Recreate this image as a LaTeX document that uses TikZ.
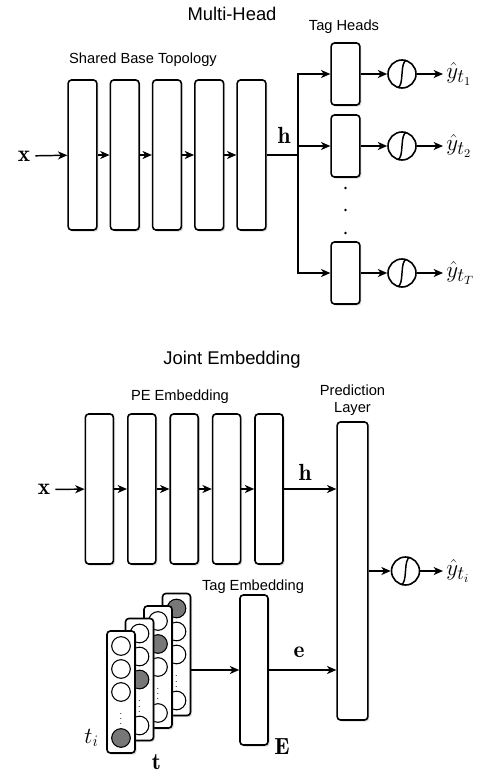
\documentclass[tikz,border=0pt]{standalone}
\usepackage{amsmath}
\usepackage{fontspec}
\setsansfont{Liberation Sans}
\usetikzlibrary{arrows.meta,positioning,calc,shadows}
\definecolor{dotgray}{HTML}{777777}

\begin{document}
\begin{tikzpicture}[
  x=0.75pt, y=-0.75pt,
  line width=1.1pt,
  font=\sffamily\fontsize{11}{13}\selectfont,
  layer/.style={draw, fill=white, rounded corners=2.5pt, minimum width=21.5pt,
    minimum height=112.5pt, inner sep=0pt, line width=1.2pt,
    drop shadow={shadow xshift=1.2pt, shadow yshift=-1.2pt, opacity=0.3}},
  head/.style={layer, minimum height=46.5pt},
  card/.style={layer, minimum width=21pt, minimum height=91.5pt},
  sig/.style={draw, circle, fill=white, minimum size=21pt, inner sep=0pt, line width=1.2pt,
    path picture={\draw[line width=1.1pt]
      ([shift={(-4pt,-10.4pt)}]path picture bounding box.center)
      .. controls ([shift={(2.5pt,-10.4pt)}]path picture bounding box.center)
      and ([shift={(-2.5pt,10.4pt)}]path picture bounding box.center)
      .. ([shift={(4pt,10.4pt)}]path picture bounding box.center);}},
  title/.style={font=\sffamily\fontsize{13.8}{16}\selectfont, anchor=base},
  lab/.style={anchor=base},
  sym/.style={font=\fontsize{17.5}{21}\selectfont},
  yout/.style={font=\fontsize{19}{22}\selectfont, anchor=west, inner sep=2pt},
  arr/.style={-{Stealth[length=7pt, width=6pt, inset=2pt]}, line width=1.1pt}
]
\useasboundingbox (0,0) rectangle (483,781);

% multi-head
\node[title] (mhT) at (232,21) {Multi-Head};
\node[lab] (sbT) at (143,63.3) {Shared Base Topology};
\node[lab] (thT) at (344,30.7) {Tag Heads};

\node[sym] (x1) at (24,156) {$\mathbf{x}$};
\foreach \i in {1,...,5}
  \node[layer] (b\i) at (40.25+42.25*\i,155) {};
\draw[arr] (x1) -- (b1);
\foreach \i [count=\j from 2] in {1,...,4}
  \draw[arr] (b\i) -- (b\j);
\coordinate (jn) at (298,155);
\draw (b5) -- (jn);
\node[sym] (h1) at (284,135.5) {$\mathbf{h}$};

\foreach \n/\y/\s in {1/74/1,2/146/2,3/273/T}{
  \node[head] (hd\n) at (345.5,\y) {};
  \node[sig] (sg\n) at (402,\y) {};
  \node[yout] (yh\n) at (443,\y) {$\hat{y}_{t_\s}$};
  \draw[arr] (jn) |- (hd\n);
  \draw[arr] (hd\n) -- (sg\n);
  \draw[arr] (sg\n) -- (yh\n);
}
\foreach \d in {188,210,233}
  \fill (345.5,\d) circle[radius=1.1pt];

% joint embedding
\node[title] (jeT) at (232,364) {Joint Embedding};
\node[lab] (peT) at (180,400.7) {PE Embedding};
\node[align=center] (plT) at (352.5,400) {Prediction\\Layer};

\node[sym] (x2) at (44,489.5) {$\mathbf{x}$};
\foreach \i in {1,...,5}
  \node[layer, minimum width=21pt] (c\i) at (57+42.4*\i,489) {};
\node[layer, minimum width=23pt, minimum height=223.5pt] (pl) at (352.5,571) {};
\draw[arr] (x2) -- (c1);
\foreach \i [count=\j from 2] in {1,...,4}
  \draw[arr] (c\i) -- (c\j);
\draw[arr] (c5.east) -- (c5.east -| pl.west);
\node[sym] (h2) at (305,472) {$\mathbf{h}$};

\node[sig] (sg4) at (405.5,571) {};
\node[yout] (yh4) at (443,571) {$\hat{y}_{t_i}$};
\draw[arr] (pl) -- (sg4);
\draw[arr] (sg4) -- (yh4);

\node[lab] (teT) at (253,590) {Tag Embedding};
\node[layer, minimum width=21pt] (E) at (254,670) {};
\node[sym] (Elab) at (282,747) {$\mathbf{E}$};
\draw[arr] (E.east) -- (E.east -| pl.west);
\node[sym] (e1) at (299,652.5) {$\mathbf{e}$};

% one-hot tag cards, back to front
\foreach \k/\g in {4/1,3/2,2/3,1/5}{
  \pgfmathsetmacro\cx{121+18.5*(\k-1)}
  \pgfmathsetmacro\cy{692-12.5*(\k-1)}
  \node[card] (tg\k) at (\cx,\cy) {};
  \foreach \s in {1,2,3,5}{
    \pgfmathsetmacro\sy{\cy+23*(\s-3)}
    \ifnum\s=\g \def\fc{dotgray}\else\def\fc{white}\fi
    \draw[line width=0.8pt, fill=\fc] (\cx,\sy) circle[radius=7pt];
  }
  \node[font=\scriptsize, inner sep=0pt] (vd\k) at (\cx,\cy+23) {$\vdots$};
}
\draw[arr] (tg4.east |- E.west) -- (E.west);
\node[font=\fontsize{17}{20}\selectfont] (ti) at (91.5,738) {$t_i$};
\node[sym] (tt) at (156.5,762.5) {$\mathbf{t}$};
\end{tikzpicture}
\end{document}
